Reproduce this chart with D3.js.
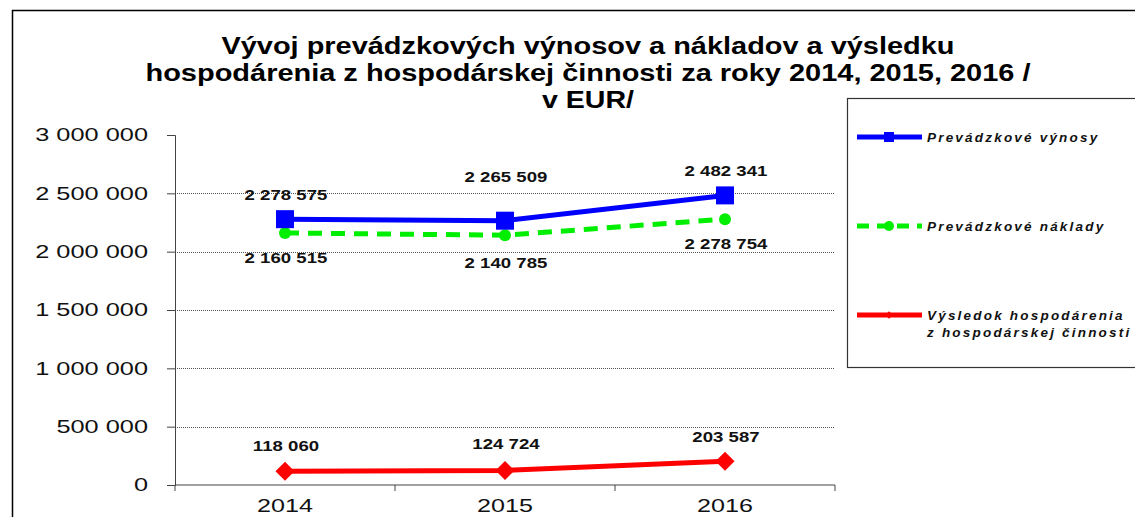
<!DOCTYPE html>
<html>
<head>
<meta charset="utf-8">
<script src="https://cdn.jsdelivr.net/npm/d3@7"></script>
<style>
  body { margin: 0; background: #fff; }
  text { font-family: "Liberation Sans", Arial, sans-serif; }
</style>
</head>
<body>
<script>
var years = ["2014", "2015", "2016"];
var vynosy = [2278575, 2265509, 2482341];
var naklady = [2160515, 2140785, 2278754];
var vysledok = [118060, 124724, 203587];
var yTicks = [0, 500000, 1000000, 1500000, 2000000, 2500000, 3000000];
var titleLines = [
  "Vývoj prevádzkových výnosov a nákladov a výsledku",
  "hospodárenia z hospodárskej činnosti za roky 2014, 2015, 2016 /",
  "v EUR/"
];
var legendNames = [["Prevádzkové výnosy"], ["Prevádzkové náklady"], ["Výsledok hospodárenia", "z hospodárskej činnosti"]];

var w = 1135, h = 517;
var plot = { left: 175, right: 835, top: 135, bottom: 485 };

var svg = d3.select("body").append("svg").attr("width", w).attr("height", h);

// the original picture is stretched sideways, so widen text the same way
function stretch(sel, k) {
  sel.each(function () {
    var len = this.getComputedTextLength();
    d3.select(this).attr("textLength", len * k).attr("lengthAdjust", "spacingAndGlyphs");
  });
}

// outer frame
svg.append("rect").attr("x", 12.5).attr("y", 10.5).attr("width", w + 20).attr("height", h + 20)
  .attr("fill", "none").attr("stroke", "#000").attr("stroke-width", 1.5);

// title
var titleLen = [733, 885, 92];
svg.selectAll("text.title").data(titleLines).enter().append("text")
  .attr("x", 588).attr("y", function (d, i) { return 54 + i * 27; })
  .attr("text-anchor", "middle").attr("font-size", 23).attr("font-weight", "bold")
  .attr("textLength", function (d, i) { return titleLen[i]; })
  .attr("lengthAdjust", "spacingAndGlyphs")
  .text(function (d) { return d; });

var x = d3.scaleBand().domain(years).range([plot.left, plot.right]);
var y = d3.scaleLinear().domain([0, 3000000]).range([plot.bottom, plot.top]);
var fmt = function (v) { return d3.format(",")(v).replace(/,/g, " "); };
var cx = function (i) { return x(years[i]) + x.bandwidth() / 2; };

// grid
svg.selectAll("line.grid").data(yTicks.slice(1, 6)).enter().append("line")
  .attr("x1", plot.left).attr("x2", plot.right)
  .attr("y1", function (d) { return Math.round(y(d)) + 0.5; })
  .attr("y2", function (d) { return Math.round(y(d)) + 0.5; })
  .attr("stroke", "#555").attr("stroke-width", 1).attr("stroke-dasharray", "1,1");

// y axis
var yAxis = svg.append("g").attr("transform", "translate(" + plot.left + ",0)")
  .call(d3.axisLeft(y).tickValues(yTicks).tickSize(8).tickPadding(19).tickFormat(fmt));
yAxis.selectAll("text").attr("font-size", 18.5).attr("fill", "#111")
  .style("font-family", "Liberation Sans, Arial, sans-serif");
stretch(yAxis.selectAll("text"), 1.37);
yAxis.selectAll("line, path").attr("stroke", "#444");

// x axis
var xAxis = svg.append("g").attr("transform", "translate(0," + plot.bottom + ")");
xAxis.append("line").attr("x1", plot.left).attr("x2", plot.right).attr("stroke", "#444");
xAxis.selectAll("line.tk").data(d3.range(years.length + 1)).enter().append("line")
  .attr("x1", function (i) { return plot.left + i * x.bandwidth(); })
  .attr("x2", function (i) { return plot.left + i * x.bandwidth(); })
  .attr("y1", 0).attr("y2", 6).attr("stroke", "#444");
var xl = xAxis.selectAll("text").data(years).enter().append("text")
  .attr("x", function (d) { return x(d) + x.bandwidth() / 2; }).attr("y", 27)
  .attr("text-anchor", "middle").attr("font-size", 19).attr("fill", "#111")
  .text(function (d) { return d; });
stretch(xl, 1.32);

var line = d3.line().x(function (d, i) { return cx(i); }).y(function (d) { return y(d); });

// vysledok (red)
svg.append("path").datum(vysledok).attr("d", line).attr("fill", "none")
  .attr("stroke", "#ff0000").attr("stroke-width", 5);
svg.selectAll("path.dia").data(vysledok).enter().append("path")
  .attr("d", d3.symbol().type(d3.symbolSquare).size(180))
  .attr("transform", function (d, i) { return "translate(" + cx(i) + "," + y(d) + ") rotate(45)"; })
  .attr("fill", "#ff0000");

// naklady (green dashed)
svg.append("path").datum(naklady).attr("d", line).attr("fill", "none")
  .attr("stroke", "#00ee00").attr("stroke-width", 5).attr("stroke-dasharray", "14,9");
svg.selectAll("circle.nak").data(naklady).enter().append("circle")
  .attr("cx", function (d, i) { return cx(i); }).attr("cy", function (d) { return y(d); })
  .attr("r", 6).attr("fill", "#00ee00");

// vynosy (blue)
svg.append("path").datum(vynosy).attr("d", line).attr("fill", "none")
  .attr("stroke", "#0000ff").attr("stroke-width", 5);
svg.selectAll("rect.vyn").data(vynosy).enter().append("rect")
  .attr("x", function (d, i) { return cx(i) - 9; }).attr("y", function (d) { return y(d) - 9; })
  .attr("width", 18).attr("height", 18).attr("fill", "#0000ff");

// data labels
var lbl = function (data, dy) {
  var t = svg.selectAll(null).data(data).enter().append("text")
    .attr("x", function (d, i) { return cx(i) + 1; })
    .attr("y", function (d, i) { return y(d) + dy[i]; })
    .attr("text-anchor", "middle").attr("font-size", 15.5).attr("font-weight", "bold")
    .attr("fill", "#111")
    .text(fmt);
  stretch(t, 1.2);
};
lbl(vynosy, [-19, -39, -19]);
lbl(naklady, [30, 33, 30]);
lbl(vysledok, [-20, -21, -19]);

// legend
var lg = svg.append("g");
lg.append("rect").attr("x", 847.5).attr("y", 98.5).attr("width", 300).attr("height", 269)
  .attr("fill", "#fff").attr("stroke", "#333").attr("stroke-width", 1.2);
var ly = [137, 226, 315];
var lcol = ["#0000ff", "#00ee00", "#ff0000"];
lg.selectAll("line.lg").data(ly).enter().append("line")
  .attr("x1", 857).attr("x2", 922).attr("y1", function (d) { return d; }).attr("y2", function (d) { return d; })
  .attr("stroke", function (d, i) { return lcol[i]; }).attr("stroke-width", 5)
  .attr("stroke-dasharray", function (d, i) { return i === 1 ? "12,8" : null; });
lg.append("rect").attr("x", 884).attr("y", 132).attr("width", 10).attr("height", 10).attr("fill", "#0000ff");
lg.append("circle").attr("cx", 889).attr("cy", 226).attr("r", 5).attr("fill", "#00ee00");
lg.append("path").attr("d", d3.symbol().type(d3.symbolSquare).size(30))
  .attr("transform", "translate(889,315) rotate(45)").attr("fill", "#ff0000");
legendNames.forEach(function (names, i) {
  var t = lg.append("text").attr("x", 927).attr("y", ly[i] + 5)
    .attr("font-size", 13.5).attr("font-weight", "bold").attr("font-style", "italic")
    .attr("letter-spacing", 2.2).attr("fill", "#111");
  names.forEach(function (n, j) {
    t.append("tspan").attr("x", 927).attr("dy", j === 0 ? 0 : 17).text(n);
  });
});
</script>
</body>
</html>
